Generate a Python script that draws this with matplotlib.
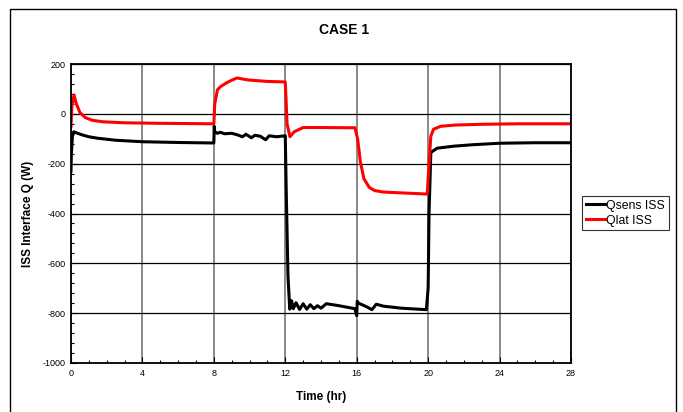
import matplotlib
matplotlib.use("Agg")
import matplotlib.pyplot as plt
from matplotlib.patches import Rectangle
from matplotlib.ticker import MultipleLocator

plt.rcParams['font.family'] = ['Liberation Sans', 'DejaVu Sans']
plt.rcParams['axes.unicode_minus'] = False

# Qsens ISS (black)
t_sens = [0, 0.02, 0.08, 0.15, 0.3, 0.6, 1.0, 1.5, 2.5, 4, 6, 8.0,
          8.02, 8.05, 8.2, 8.35, 8.6, 9.0, 9.3, 9.6, 9.8, 10.1, 10.3, 10.6, 10.9, 11.1, 11.5, 12.0,
          12.05, 12.15, 12.25, 12.35, 12.45, 12.6, 12.8, 13.0, 13.2, 13.4, 13.6, 13.8, 14.0, 14.3, 15.0, 15.9,
          16.0, 16.03, 16.1, 16.3, 16.6, 16.85, 17.1, 17.5, 18.5, 19.9,
          20.0, 20.05, 20.15, 20.5, 21.4, 22.5, 24, 26, 28]
q_sens = [-230, -160, -90, -72, -76, -84, -92, -98, -106, -112, -115, -117,
          -50, -72, -78, -74, -80, -78, -84, -92, -82, -96, -86, -90, -104, -88, -92, -88,
          -300, -650, -784, -750, -782, -758, -785, -762, -784, -766, -782, -770, -780, -762, -770, -782,
          -810, -752, -760, -766, -776, -786, -764, -772, -780, -786,
          -700, -400, -155, -138, -130, -124, -118, -116, -116]

# Qlat ISS (red)
t_lat = [0, 0.05, 0.17, 0.3, 0.5, 0.8, 1.2, 1.8, 3, 5, 8.0,
         8.05, 8.2, 8.35, 8.7, 9.0, 9.3, 9.9, 11, 12.0,
         12.1, 12.26, 12.5, 13.0, 14, 15.9,
         16.05, 16.2, 16.4, 16.7, 17.0, 17.5, 19.95,
         20.05, 20.15, 20.3, 20.7, 21.5, 23, 25, 28]
q_lat = [-50, 30, 76, 40, 5, -15, -26, -32, -36, -38, -40,
         40, 96, 108, 124, 135, 144, 136, 130, 128,
         -40, -92, -72, -55, -55, -56,
         -100, -190, -260, -295, -308, -314, -322,
         -200, -90, -62, -50, -45, -42, -40, -40]

x_ticks = [0, 4, 8, 12, 16, 20, 24, 28]
y_ticks = [-1000, -800, -600, -400, -200, 0, 200]

W, H = 683, 412
fig = plt.figure(figsize=(W / 100, H / 100), dpi=100)
fig.patch.set_facecolor('white')

# outer chart border
fig.patches.append(Rectangle((10 / W, -0.05), 666 / W, (1 - 9 / H) + 0.05,
                             transform=fig.transFigure, fill=False,
                             edgecolor='black', linewidth=1.0))

ax = fig.add_axes([71 / W, 1 - 363 / H, 500 / W, 299 / H])
ax.set_xlim(0, 28)
ax.set_ylim(-1000, 200)
ax.set_xticks(x_ticks)
ax.set_yticks(y_ticks)
ax.xaxis.set_minor_locator(MultipleLocator(1))
ax.yaxis.set_minor_locator(MultipleLocator(40))
ax.tick_params(axis='both', which='both', direction='in', labelsize=6.5,
               top=False, right=False, pad=4)
ax.tick_params(which='major', length=4, width=0.8)
ax.tick_params(which='minor', length=2.5, width=0.8)

ax.yaxis.grid(True, color='black', linewidth=0.9)
ax.xaxis.grid(True, color='#808080', linewidth=1.3)
ax.set_axisbelow(True)
for s in ax.spines.values():
    s.set_linewidth(1.3)

l1, = ax.plot(t_sens, q_sens, color='black', linewidth=2.2, label='Qsens ISS')
l2, = ax.plot(t_lat, q_lat, color='#ff0000', linewidth=2.2, label='Qlat ISS')

ax.set_xlabel('Time (hr)', fontsize=8.5, fontweight='bold', labelpad=10)
ax.set_ylabel('ISS Interface Q (W)', fontsize=8.5, fontweight='bold', labelpad=6)

fig.text(344 / W, 1 - 30 / H, 'CASE 1', fontsize=10, fontweight='bold',
         ha='center', va='center')

leg = fig.legend(handles=[l1, l2], loc='upper left',
                 bbox_to_anchor=(582 / W, 1 - 196 / H),
                 fontsize=8.8, frameon=True, fancybox=False, handlelength=1.6,
                 handletextpad=0.1, borderpad=0.3, labelspacing=0.25,
                 borderaxespad=0)
leg.get_frame().set_edgecolor('black')
leg.get_frame().set_linewidth(0.8)

fig.savefig('out.png', dpi=100)
